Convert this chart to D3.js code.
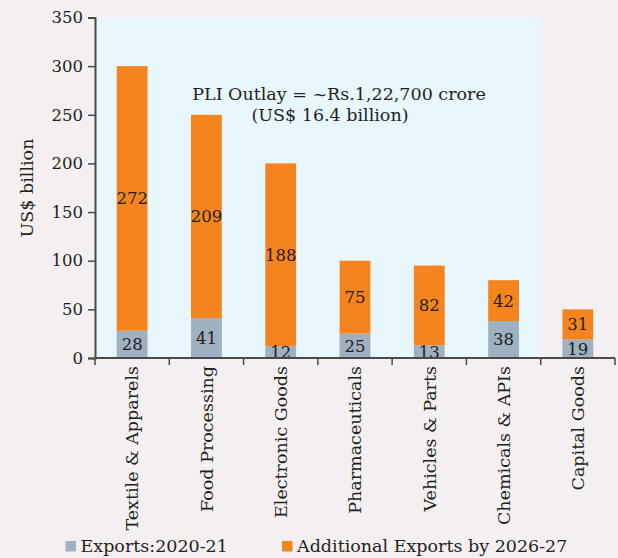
<!DOCTYPE html>
<html>
<head>
<meta charset="utf-8">
<script src="https://cdn.jsdelivr.net/npm/d3@7/dist/d3.min.js"></script>
<style>
  html, body { margin: 0; padding: 0; background: #f4f0f1; }
  svg { display: block; }
  text { font-family: "DejaVu Serif", "Liberation Serif", serif; fill: #231f20; }
</style>
</head>
<body>
<svg id="chart" width="618" height="558"></svg>
<script>
// Sectors covered by the PLI scheme
const categories = ["Textile & Apparels", "Food Processing", "Electronic Goods", "Pharmaceuticals",
                    "Vehicles & Parts", "Chemicals & APIs", "Capital Goods"];
// US$ billion
const exports2021 = [28, 41, 12, 25, 13, 38, 19];
const additional2027 = [272, 209, 188, 75, 82, 42, 31];
const yTicks = [0, 50, 100, 150, 200, 250, 300, 350];
const seriesNames = ["Exports:2020-21", "Additional Exports by 2026-27"];
const colors = ["#9fb0c0", "#f5841f"];

const svg = d3.select("#chart");
const plotLeft = 95, plotRight = 615, plotTop = 17.5, plotBottom = 358;
const shadeRight = 541;
const labelSize = 17.5;

const x = d3.scaleBand().domain(categories).range([plotLeft, plotRight]).paddingInner(0).paddingOuter(0);
const y = d3.scaleLinear().domain([0, 350]).range([plotBottom, plotTop]);
const barW = x.bandwidth() * 0.415;

// shaded plot region
svg.append("rect")
  .attr("x", plotLeft).attr("y", y(350))
  .attr("width", shadeRight - plotLeft).attr("height", y(0) - y(350))
  .attr("fill", "#e8f6fd");

const rows = categories.map((c, i) => ({ cat: c, base: exports2021[i], add: additional2027[i] }));
const stack = d3.stack().keys(["base", "add"])(rows);

const g = svg.append("g");
stack.forEach((layer, li) => {
  g.selectAll(null).data(layer).enter().append("rect")
    .attr("x", d => x(d.data.cat) + (x.bandwidth() - barW) / 2)
    .attr("y", d => y(d[1]))
    .attr("width", barW)
    .attr("height", d => y(d[0]) - y(d[1]))
    .attr("fill", colors[li]);
});

// value labels centred in each segment
stack.forEach((layer, li) => {
  g.selectAll(null).data(layer).enter().append("text")
    .attr("x", d => x(d.data.cat) + x.bandwidth() / 2)
    .attr("y", d => y((d[0] + d[1]) / 2))
    .attr("dy", "0.36em")
    .attr("text-anchor", "middle")
    .attr("font-size", 16.5)
    .text(d => d[1] - d[0]);
});

// axes
const yAxis = d3.axisLeft(y).tickValues(yTicks).tickSize(7).tickPadding(5);
const ya = svg.append("g").attr("transform", `translate(${plotLeft},0)`).call(yAxis);
ya.selectAll("text").attr("font-size", 16.5).attr("fill", "#231f20")
  .attr("font-family", "DejaVu Serif, serif");
ya.select(".domain").attr("stroke", "#4a4a4a").attr("stroke-width", 2);
ya.selectAll(".tick line").attr("stroke", "#4a4a4a").attr("stroke-width", 1.5);

const xa = svg.append("g").attr("transform", `translate(0,${plotBottom})`);
xa.append("line").attr("x1", plotLeft).attr("x2", plotRight).attr("y1", 0).attr("y2", 0)
  .attr("stroke", "#4a4a4a").attr("stroke-width", 2);
const edges = categories.map(c => x(c)).concat([x(categories[categories.length - 1]) + x.bandwidth()]);
xa.selectAll(null).data(edges).enter().append("line")
  .attr("x1", d => d).attr("x2", d => d).attr("y1", 0).attr("y2", 7)
  .attr("stroke", "#4a4a4a").attr("stroke-width", 1.5);
xa.selectAll(null).data(categories).enter().append("text")
  .attr("transform", d => `translate(${x(d) + x.bandwidth() / 2},8) rotate(-90)`)
  .attr("text-anchor", "end")
  .attr("dy", "0.36em")
  .attr("font-size", labelSize)
  .text(d => d);

// y-axis title
svg.append("text")
  .attr("transform", `translate(27,188) rotate(-90)`)
  .attr("text-anchor", "middle")
  .attr("dy", "0.36em")
  .attr("font-size", labelSize)
  .text("US$ billion");

// outlay note
const note = svg.append("text").attr("font-size", labelSize);
note.append("tspan").attr("x", 339).attr("y", 100).attr("text-anchor", "middle")
  .text("PLI Outlay = ~Rs.1,22,700 crore");
note.append("tspan").attr("x", 330).attr("y", 121).attr("text-anchor", "middle")
  .text("(US$ 16.4 billion)");

// legend
const legendX = [65.5, 282];
const lg = svg.append("g");
seriesNames.forEach((name, i) => {
  lg.append("rect").attr("x", legendX[i]).attr("y", 541).attr("width", 10.5).attr("height", 10.5)
    .attr("fill", colors[i]);
  lg.append("text").attr("x", legendX[i] + 15).attr("y", 552).attr("font-size", labelSize).text(name);
});
</script>
</body>
</html>
